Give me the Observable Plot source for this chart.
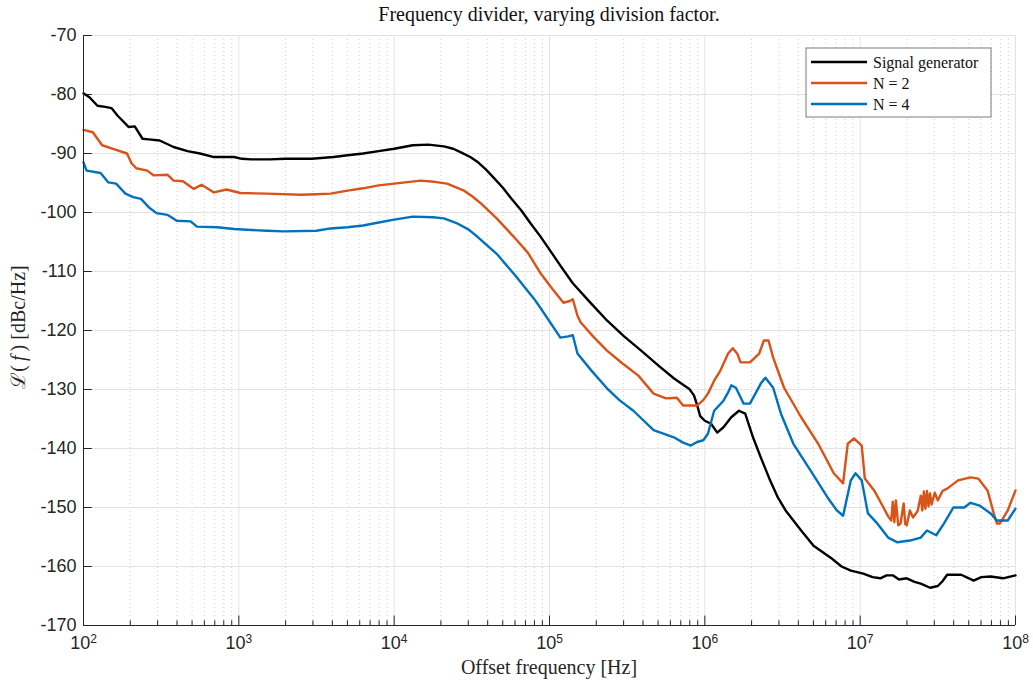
<!DOCTYPE html>
<html><head><meta charset="utf-8">
<script src="https://cdn.jsdelivr.net/npm/d3@7"></script>
<script src="https://cdn.jsdelivr.net/npm/@observablehq/plot@0.6"></script>
<style>
body{margin:0;background:#fff;}
#wrap{position:relative;width:1033px;height:683px;}
#title{position:absolute;left:83px;width:932px;top:3px;text-align:center;font-family:"Liberation Serif",serif;font-size:20px;color:#111;}
</style></head><body><div id="wrap"><div id="title">Frequency divider, varying division factor.</div></div>
<script>
// ---- data (x given as log10 of offset frequency in Hz, y in dBc/Hz) ----
const seriesNames = ["Signal generator", "N = 2", "N = 4"];
const seriesColors = ["#000000", "#D95319", "#0072BD"];

const sgLogF = [2.00,2.04,2.09,2.14,2.18,2.22,2.29,2.33,2.38,2.42,2.49,2.58,2.67,2.75,2.84,2.97,3.02,3.08,3.20,3.30,3.47,3.61,3.70,3.80,3.90,4.00,4.12,4.22,4.32,4.38,4.43,4.49,4.54,4.59,4.64,4.70,4.75,4.82,4.88,4.94,4.99,5.07,5.15,5.26,5.37,5.48,5.59,5.70,5.80,5.86,5.90,5.93,5.95,5.97,6.00,6.04,6.08,6.12,6.17,6.22,6.26,6.31,6.36,6.42,6.47,6.52,6.62,6.70,6.81,6.88,6.94,7.02,7.08,7.13,7.17,7.21,7.25,7.30,7.35,7.39,7.45,7.50,7.53,7.56,7.65,7.70,7.73,7.78,7.84,7.92,8.00];
const sgDb   = [-79.8,-80.5,-81.9,-82.1,-82.3,-83.6,-85.5,-85.4,-87.5,-87.6,-87.8,-88.9,-89.6,-90.0,-90.6,-90.6,-90.9,-91.0,-91.0,-90.9,-90.9,-90.6,-90.3,-90.0,-89.6,-89.2,-88.6,-88.5,-88.8,-89.2,-89.8,-90.6,-91.5,-92.7,-94.1,-95.8,-97.5,-99.7,-101.9,-104.0,-105.9,-109.0,-112.0,-115.2,-118.3,-121.0,-123.4,-125.9,-128.1,-129.2,-129.9,-131.0,-132.6,-134.5,-135.3,-135.8,-137.3,-136.4,-134.7,-133.6,-134.1,-138.1,-141.5,-145.4,-148.3,-150.5,-153.9,-156.5,-158.5,-160.0,-160.7,-161.2,-161.8,-162.0,-161.5,-161.5,-162.2,-162.0,-162.6,-162.9,-163.6,-163.3,-162.5,-161.4,-161.4,-162.0,-162.4,-161.8,-161.7,-162.0,-161.5];

const n2LogF = [2.00,2.06,2.12,2.19,2.28,2.31,2.34,2.41,2.45,2.54,2.58,2.64,2.71,2.76,2.84,2.92,3.01,3.18,3.40,3.50,3.59,3.70,3.80,3.90,4.00,4.10,4.17,4.26,4.34,4.45,4.50,4.56,4.66,4.79,4.86,4.94,5.02,5.09,5.13,5.15,5.18,5.20,5.28,5.37,5.47,5.57,5.67,5.75,5.82,5.86,5.90,5.95,5.99,6.02,6.06,6.10,6.15,6.18,6.21,6.23,6.29,6.35,6.38,6.41,6.44,6.51,6.62,6.73,6.83,6.89,6.92,6.96,7.01,7.03,7.09,7.15,7.18,7.20,7.21,7.22,7.23,7.245,7.26,7.28,7.29,7.30,7.32,7.34,7.37,7.39,7.40,7.41,7.42,7.43,7.44,7.45,7.46,7.48,7.50,7.53,7.56,7.63,7.71,7.76,7.82,7.86,7.88,7.90,7.95,8.00];
const n2Db   = [-86.0,-86.4,-88.6,-89.2,-90.0,-91.7,-92.5,-92.9,-93.7,-93.6,-94.6,-94.7,-96.0,-95.3,-96.6,-96.1,-96.7,-96.8,-97.0,-96.9,-96.8,-96.3,-95.9,-95.4,-95.1,-94.8,-94.6,-94.8,-95.1,-96.3,-97.2,-98.5,-101.0,-104.7,-106.8,-110.2,-113.0,-115.3,-115.0,-114.7,-117.5,-118.6,-121.0,-123.4,-125.6,-127.6,-130.7,-131.5,-131.4,-132.7,-132.7,-132.7,-131.8,-130.7,-128.5,-126.8,-123.9,-123.0,-124.0,-125.4,-125.4,-123.9,-121.7,-121.7,-124.6,-129.7,-134.7,-139.2,-144.2,-145.9,-139.2,-138.3,-139.5,-145.1,-147.1,-150.0,-151.5,-152.2,-149.0,-152.5,-148.8,-153.0,-152.7,-149.3,-152.8,-153.0,-150.5,-151.7,-150.6,-148.0,-150.5,-147.3,-150.2,-147.2,-149.8,-147.6,-149.5,-147.5,-148.8,-147.2,-146.8,-145.4,-144.9,-145.1,-147.1,-151.0,-152.7,-152.7,-150.5,-147.1];

const n4LogF = [2.00,2.02,2.11,2.16,2.21,2.27,2.32,2.37,2.42,2.47,2.54,2.60,2.69,2.73,2.86,2.97,3.18,3.29,3.50,3.59,3.70,3.80,3.90,4.00,4.12,4.25,4.32,4.41,4.48,4.54,4.66,4.79,4.90,4.94,5.07,5.12,5.15,5.18,5.27,5.37,5.45,5.54,5.67,5.80,5.86,5.91,5.95,5.99,6.02,6.06,6.12,6.15,6.17,6.20,6.25,6.29,6.33,6.36,6.39,6.44,6.49,6.57,6.68,6.79,6.85,6.89,6.94,6.97,7.01,7.05,7.11,7.18,7.24,7.32,7.39,7.43,7.49,7.54,7.60,7.67,7.71,7.77,7.84,7.88,7.95,8.00];
const n4Db   = [-91.5,-92.9,-93.3,-94.9,-95.1,-96.8,-97.4,-97.7,-99.1,-100.1,-100.4,-101.4,-101.5,-102.4,-102.5,-102.8,-103.1,-103.2,-103.1,-102.7,-102.5,-102.2,-101.7,-101.2,-100.7,-100.8,-101.0,-101.9,-102.9,-104.2,-107.0,-111.0,-114.6,-116.1,-121.2,-121.0,-120.8,-123.9,-126.8,-129.8,-131.8,-133.6,-136.9,-138.1,-139.0,-139.5,-138.9,-138.6,-137.5,-133.6,-131.9,-130.5,-129.3,-129.7,-132.4,-132.4,-130.5,-129.0,-128.0,-129.7,-134.1,-139.2,-143.7,-148.3,-150.5,-151.4,-145.4,-144.2,-145.4,-151.0,-152.7,-155.1,-155.9,-155.6,-155.1,-153.9,-154.7,-152.7,-150.0,-150.0,-149.2,-149.7,-151.0,-152.2,-152.2,-150.2];

const xMajorTicks = [1e2,1e3,1e4,1e5,1e6,1e7,1e8];
const yTicks = [-170,-160,-150,-140,-130,-120,-110,-100,-90,-80,-70];

// ---- build tables ----
const series = [[sgLogF, sgDb], [n2LogF, n2Db], [n4LogF, n4Db]];
const data = series.flatMap(([lf, db], i) => lf.map((v, j) => ({f: 10 ** v, L: db[j], s: seriesNames[i]})));
const xMinorTicks = xMajorTicks.slice(0, -1).flatMap(d => d3.range(2, 10).map(k => d * k));

const fmtY = d => String(d);
const gridC = "#e3e3e3", axisC = "#262626";

const chart = Plot.plot({
  width: 1033, height: 683,
  marginLeft: 83, marginRight: 18, marginTop: 35, marginBottom: 58,
  style: {fontFamily: "'Liberation Sans', Arial, sans-serif", fontSize: "18px", color: axisC, background: "#fff"},
  x: {type: "log", domain: [1e2, 1e8]},
  y: {domain: [-170, -70]},
  color: {domain: seriesNames, range: seriesColors},
  marks: [
    Plot.gridX(xMinorTicks, {stroke: "#cfcfcf", strokeOpacity: 1, strokeDasharray: "1,3"}),
    Plot.gridX(xMajorTicks, {stroke: gridC, strokeOpacity: 1}),
    Plot.gridY(yTicks, {stroke: gridC, strokeOpacity: 1}),
    Plot.ruleY([-70], {stroke: gridC}),
    Plot.ruleX([1e8], {stroke: gridC}),
    Plot.ruleX(xMajorTicks, {y1: -170, y2: -168.4, stroke: axisC}),
    Plot.ruleX(xMinorTicks, {y1: -170, y2: -169.2, stroke: axisC}),
    Plot.ruleY(yTicks, {x1: 1e2, x2: 1.14e2, stroke: axisC}),
    Plot.line(data, {x: "f", y: "L", z: "s", stroke: "s", strokeWidth: 2.4, strokeLinejoin: "round"}),
    Plot.ruleX([1e2], {stroke: axisC}),
    Plot.ruleY([-170], {stroke: axisC}),
    Plot.axisX(xMajorTicks, {tickSize: 0, tickPadding: 11, tickFormat: d => String(Math.round(Math.log10(d))), label: null}),
    Plot.axisY(yTicks, {tickSize: 0, tickPadding: 7, tickFormat: fmtY, label: null})
  ]
});
document.getElementById("wrap").appendChild(chart);

const svg = d3.select(chart);
// superscript exponents on x tick labels
svg.selectAll('g[aria-label="x-axis tick label"] text').each(function () {
  const e = this.textContent;
  const t = d3.select(this);
  t.text("");
  t.append("tspan").text("10");
  t.append("tspan").attr("dy", "-0.5em").attr("font-size", "12px").text(e);
});

// axis titles
svg.append("text")
  .attr("x", 549).attr("y", 674).attr("text-anchor", "middle")
  .attr("font-family", "'Liberation Serif', serif").attr("font-size", 20).attr("fill", axisC)
  .text("Offset frequency [Hz]");
const yl = svg.append("text")
  .attr("transform", "translate(25,327) rotate(-90)").attr("text-anchor", "middle")
  .attr("font-family", "'Liberation Serif', 'DejaVu Serif', serif").attr("font-size", 20).attr("fill", axisC);
yl.append("tspan").text("\u2112(");
yl.append("tspan").attr("font-style", "italic").text("\u2009f\u2009");
yl.append("tspan").text(") [dBc/Hz]");

// legend
const lg = svg.append("g");
lg.append("rect").attr("x", 806).attr("y", 48).attr("width", 185).attr("height", 69)
  .attr("fill", "#fff").attr("stroke", "#7a7a7a").attr("stroke-width", 1);
seriesNames.forEach((name, i) => {
  const y = 62 + i * 21;
  lg.append("line").attr("x1", 811).attr("x2", 867).attr("y1", y).attr("y2", y)
    .attr("stroke", seriesColors[i]).attr("stroke-width", 2.4);
  lg.append("text").attr("x", 873).attr("y", y).attr("dy", "0.35em").attr("text-anchor", "start")
    .attr("font-family", "'Liberation Serif', serif").attr("font-size", 16).attr("fill", "#111")
    .text(name);
});
</script></body></html>
